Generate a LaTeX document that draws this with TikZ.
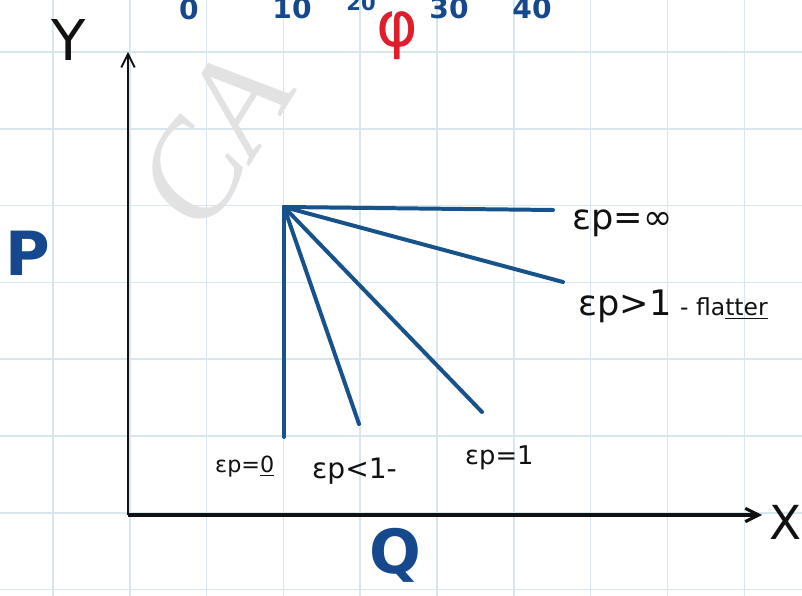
\documentclass[tikz,border=0pt]{standalone}
\usepackage{fontspec}
\setmainfont{DejaVu Sans}
\newfontfamily\wmfont{Liberation Serif}
\usetikzlibrary{arrows.meta}
\definecolor{gridline}{RGB}{216,230,238}
\definecolor{curveblue}{RGB}{24,82,138}
\definecolor{markblue}{RGB}{22,72,142}
\definecolor{phired}{RGB}{222,30,42}
\definecolor{ink}{RGB}{17,17,17}
\definecolor{wmark}{RGB}{226,226,226}
\tikzset{
  paper/.style={draw=gridline, line width=1.2pt},
  axis/.style={draw=ink, -{Straight Barb[length=4mm,width=4mm]}},
  demand/.style={draw=curveblue, line width=3.4pt, line cap=round},
  elab/.style={anchor=base west, inner sep=0pt, text=ink},
  varlbl/.style={inner sep=0pt, text=markblue, font=\bfseries\fontsize{52}{52}\selectfont},
  tick/.style={anchor=base, inner sep=0pt, text=markblue, font=\bfseries\fontsize{24}{24}\selectfont},
}

\begin{document}
\begin{tikzpicture}[x=0.03cm, y=-0.03cm]
  \useasboundingbox[fill=white] (0,0) rectangle (802,596);

  % grid paper
  \foreach \gx in {0,...,9}
    \draw[paper] ({53+76.8*\gx},0) -- ({53+76.8*\gx},596);
  \foreach \gy in {0,...,7}
    \draw[paper] (0,{52+76.8*\gy}) -- (802,{52+76.8*\gy});

  % watermark
  \node[text=wmark, rotate=58, inner sep=0pt, font=\wmfont\itshape\fontsize{116}{116}\selectfont]
    (wm) at (214,140) {CA};

  % axes
  \coordinate (orig) at (128,515);
  \coordinate (ytop) at (128,52);
  \coordinate (xend) at (762,515);
  \draw[axis, line width=1.6pt] (orig) -- (ytop);
  \draw[axis, line width=2.6pt] (orig) -- (xend);
  \node[text=ink, inner sep=0pt, font=\fontsize{48}{48}\selectfont] (ylbl) at (69,40) {Y};
  \node[text=ink, inner sep=0pt, font=\fontsize{40}{40}\selectfont] (xlbl) at (786,522) {X};
  \node[varlbl] (plbl) at (28,253) {P};
  \node[varlbl] (qlbl) at (395,555) {Q};

  % scale along the top
  \node[tick] (t0) at (189,20) {0};
  \node[tick] (t10) at (292,19) {10};
  \node[tick, font=\bfseries\fontsize{18}{18}\selectfont] (t20) at (361,11) {20};
  \node[tick] (t30) at (449,19) {30};
  \node[tick] (t40) at (532,19) {40};
  \node[text=phired, inner sep=0pt, font=\fontsize{54}{54}\selectfont] (phi) at (397,36) {φ};

  % demand curves through one point
  \coordinate (pivot) at (284,207);
  \coordinate (einf) at (553,210);
  \coordinate (egt) at (563,282);
  \coordinate (eone) at (482,412);
  \coordinate (elt) at (359,424);
  \coordinate (ezero) at (284,437);
  \foreach \tip in {einf,egt,eone,elt,ezero}
    \draw[demand] (pivot) -- (\tip);

  \node[elab, font=\fontsize{30}{30}\selectfont] (linf) at (572,230) {εp=∞};
  \node[elab, font=\fontsize{30}{30}\selectfont] (lgt) at (578,316) {εp>1};
  \node[elab, font=\fontsize{20}{20}\selectfont] (lflat) at (680,316) {- fla\underline{tter}};
  \node[elab, font=\fontsize{22}{22}\selectfont] (lone) at (465,464) {εp=1};
  \node[elab, font=\fontsize{24}{24}\selectfont] (llt) at (312,479) {εp<1-};
  \node[elab, font=\fontsize{19}{19}\selectfont] (lzero) at (215,473) {εp=\underline{0}};
\end{tikzpicture}
\end{document}
